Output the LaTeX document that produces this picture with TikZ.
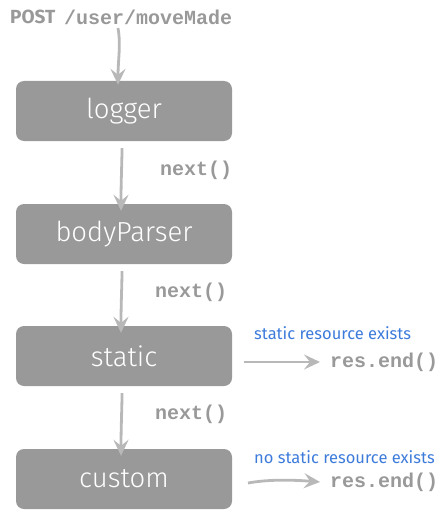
\documentclass[tikz,border=0pt]{standalone}
\usepackage{fontspec}
\setmainfont{Fira Sans}
\newfontfamily\lightfont{Fira Sans Light}
\newfontfamily\codefont{Liberation Mono}
\usetikzlibrary{arrows.meta}
\definecolor{boxgray}{HTML}{999999}
\definecolor{arrgray}{HTML}{B8B8B8}
\definecolor{codegray}{HTML}{999999}
\definecolor{noteblue}{HTML}{3D7BDB}
\tikzset{
  mwbox/.style={fill=boxgray, rounded corners=8pt, minimum width=216pt, minimum height=60pt, inner sep=0pt, text=white, font=\lightfont\fontsize{27.5}{30}\selectfont},
  flow/.style={draw=arrgray, line width=2.8pt, -{Stealth[length=16pt,width=15pt,inset=6pt]}},
  code/.style={text=codegray, font=\codefont\bfseries\fontsize{20}{22}\selectfont, inner sep=0pt},
  note/.style={text=noteblue, font=\fontsize{16.5}{18}\selectfont, inner sep=0pt},
}
\begin{document}
\begin{tikzpicture}[x=1pt,y=-1pt]
\useasboundingbox (0,0) rectangle (447,516);
\node[anchor=west, inner sep=0pt, text=codegray, font=\rmfamily\bfseries\fontsize{19}{20}\selectfont] (post) at (10,17) {POST};
\node[code, anchor=west] (url) at (64,17.5) {/user/moveMade};
\node[mwbox] (logger) at (124,111) {logger};
\node[mwbox] (body) at (124,234) {bodyParser};
\node[mwbox] (static) at (124,356) {static};
\node[mwbox] (custom) at (124,479) {custom};
\coordinate (t0) at (118,28);
\draw[flow] (t0) .. controls (121,45) and (118,60) .. ([xshift=-6pt,yshift=-4pt]logger.north);
\draw[flow] ([xshift=-2pt,yshift=-7pt]logger.south) .. controls (122,162) and (121,180) .. ([xshift=-3pt,yshift=-7pt]body.north);
\draw[flow] ([xshift=-2pt,yshift=-7pt]body.south) .. controls (122,285) and (121,302) .. ([xshift=-3pt,yshift=-7pt]static.north);
\draw[flow] ([xshift=-2pt,yshift=-7pt]static.south) .. controls (122,408) and (121,426) .. ([xshift=-3pt,yshift=-7pt]custom.north);
\node[code, anchor=west] (n1) at (160,170) {next()};
\node[code, anchor=west] (n2) at (155,292) {next()};
\node[code, anchor=west] (n3) at (155,414) {next()};
\node[code, anchor=west] (r1) at (330,362) {res.end()};
\node[code, anchor=west] (r2) at (330,482) {res.end()};
\node[note, anchor=west] (s1) at (254,333) {static resource exists};
\node[note, anchor=west] (s2) at (254,457) {no static resource exists};
\coordinate (a1) at (244,362);
\coordinate (a2) at (248,483);
\draw[flow] (a1) -- ([xshift=-10pt]r1.west);
\draw[flow] (a2) .. controls (270,479) and (295,480) .. ([xshift=-10pt]r2.west);
\end{tikzpicture}
\end{document}
